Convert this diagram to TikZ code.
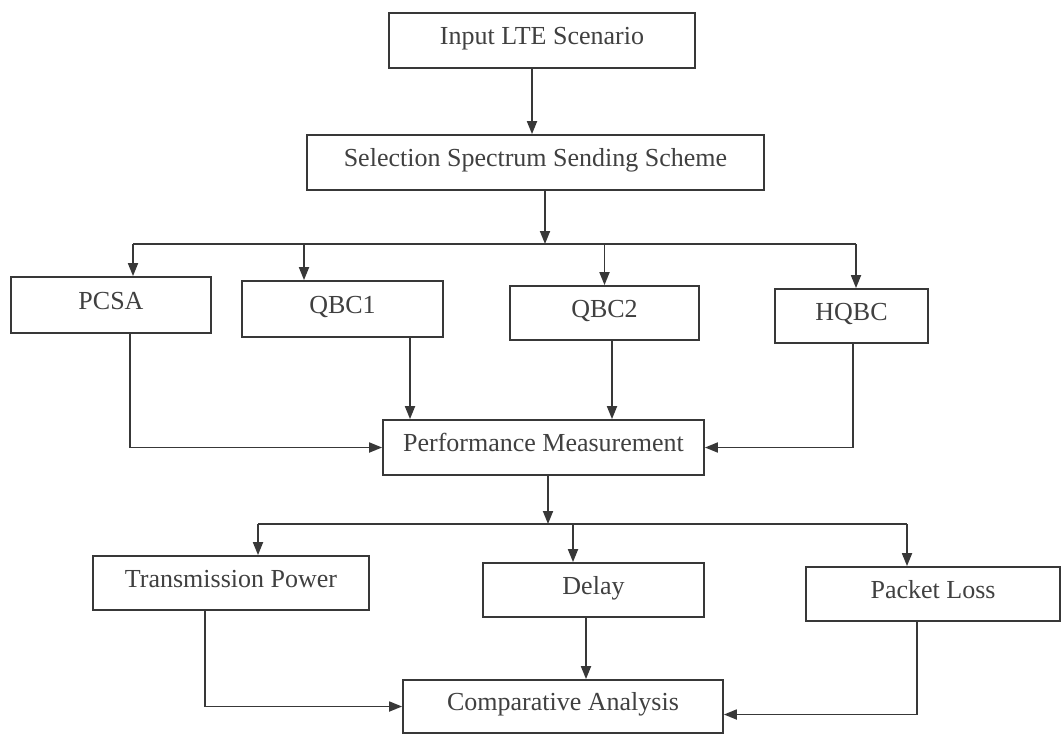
\documentclass[tikz,border=0pt]{standalone}
\usepackage{fontspec}
\setmainfont{Liberation Serif}
\usetikzlibrary{arrows.meta}
\definecolor{ink}{HTML}{383838}
\definecolor{txt}{HTML}{404040}
\tikzset{
  blk/.style={draw=ink, line width=1.8pt, rectangle, inner sep=0pt,
    text=txt, font=\fontsize{26}{30}\selectfont,
    text height=18pt, text depth=10pt, align=center},
  wire/.style={draw=ink, line width=1.8pt},
  arr/.style={wire, -{Triangle[length=13pt,width=10pt]}},
}
\begin{document}
\begin{tikzpicture}[x=1pt, y=-1pt]
  \fill[white] (0,0) rectangle (1062,736);
  \useasboundingbox (0,0) rectangle (1062,736);

  % boxes
  \node[blk, minimum width=306pt, minimum height=55pt] (in)    at (542,40.5)   {Input LTE Scenario};
  \node[blk, minimum width=457pt, minimum height=55pt] (sel)   at (535.5,162.5) {Selection Spectrum Sending Scheme};
  \node[blk, minimum width=200pt, minimum height=56pt] (pcsa)  at (111,305)    {PCSA};
  \node[blk, minimum width=201pt, minimum height=56pt] (qbc1)  at (342.5,309)  {QBC1};
  \node[blk, minimum width=189pt, minimum height=54pt] (qbc2)  at (604.5,313)  {QBC2};
  \node[blk, minimum width=153pt, minimum height=54pt] (hqbc)  at (851.5,316)  {HQBC};
  \node[blk, minimum width=321pt, minimum height=55pt] (perf)  at (543.5,447.5) {Performance Measurement};
  \node[blk, minimum width=276pt, minimum height=54pt] (tp)    at (231,583)    {Transmission Power};
  \node[blk, minimum width=221pt, minimum height=54pt] (delay) at (593.5,590)  {Delay};
  \node[blk, minimum width=254pt, minimum height=54pt] (pl)    at (933,594)    {Packet Loss};
  \node[blk, minimum width=320pt, minimum height=53pt] (comp)  at (563,706.5)  {Comparative Analysis};

  % bus junctions
  \coordinate (b1)  at (545,244);
  \coordinate (b1L) at (133,244);
  \coordinate (b1R) at (856,244);
  \coordinate (b2)  at (548,524);
  \coordinate (b2L) at (258,524);
  \coordinate (b2R) at (907,524);

  % top part
  \draw[arr] ([xshift=-10pt]in.south) -- ([xshift=-10pt]in.south |- sel.north);
  \draw[arr] (sel.south -| b1) -- (b1);
  \draw[wire] (b1L) -- (b1R);
  \draw[arr] (b1L) -- (b1L |- pcsa.north);
  \draw[arr] ([xshift=-38.5pt]qbc1.north |- b1L) -- ([xshift=-38.5pt]qbc1.north);
  \draw[arr] (qbc2.north |- b1L) -- (qbc2.north);
  \draw[arr] (b1R) -- (b1R |- hqbc.north);

  % into performance measurement
  \draw[arr] ([xshift=19pt]pcsa.south) |- (perf.west);
  \draw[arr] ([xshift=67.5pt]qbc1.south) -- ([xshift=67.5pt]qbc1.south |- perf.north);
  \draw[arr] ([xshift=7.5pt]qbc2.south) -- ([xshift=7.5pt]qbc2.south |- perf.north);
  \draw[arr] ([xshift=1.5pt]hqbc.south) |- (perf.east);

  % lower part
  \draw[arr] (perf.south -| b2) -- (b2);
  \draw[wire] (b2L) -- (b2R);
  \draw[arr] (b2L) -- (b2L |- tp.north);
  \draw[arr] ([xshift=-20.5pt]delay.north |- b2L) -- ([xshift=-20.5pt]delay.north);
  \draw[arr] (b2R) -- (b2R |- pl.north);

  % into comparative analysis
  \draw[arr] ([xshift=-26pt]tp.south) |- (comp.west);
  \draw[arr] ([xshift=-7.5pt]delay.south) -- ([xshift=-7.5pt]delay.south |- comp.north);
  \draw[arr] ([xshift=-16pt]pl.south) |- ([yshift=-8pt]comp.east);
\end{tikzpicture}
\end{document}
